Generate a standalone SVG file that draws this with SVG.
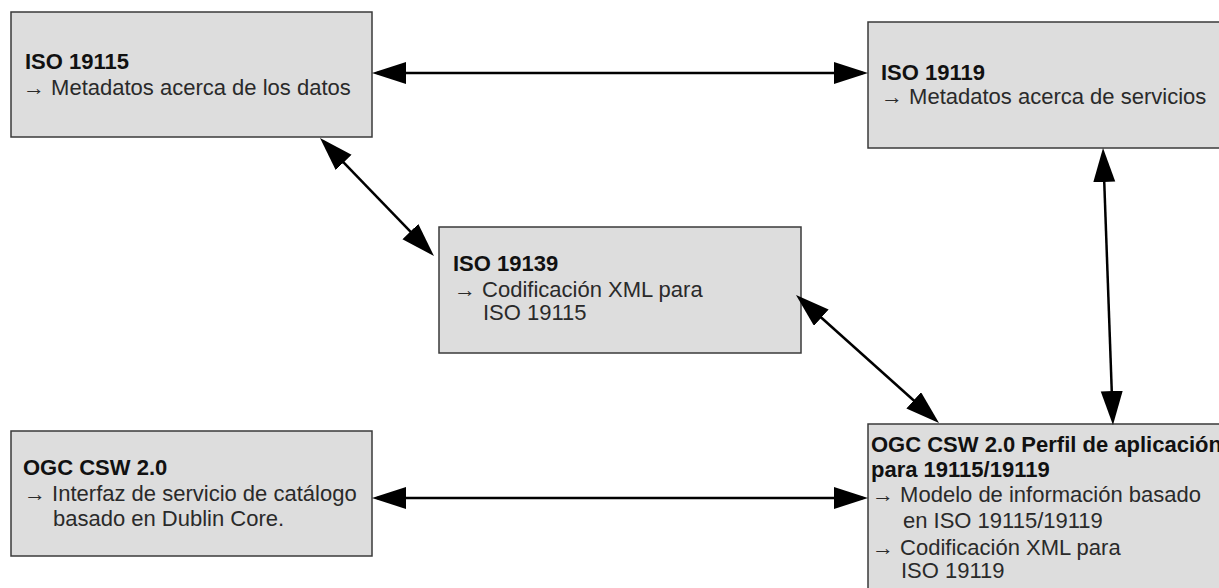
<svg xmlns="http://www.w3.org/2000/svg" width="1219" height="588" viewBox="0 0 1219 588">
<style>
.box{fill:#dddddd;stroke:#3a3a3a;stroke-width:1.5}
.t{font-family:"Liberation Sans",Arial,sans-serif;font-size:22px;fill:#2a2a2a}
.b{font-family:"Liberation Sans",Arial,sans-serif;font-size:22px;font-weight:bold;fill:#111}
.c{stroke:#000;stroke-width:2.5;fill:none;marker-start:url(#ah);marker-end:url(#ah)}
</style>
<defs>
<marker id="ah" markerUnits="userSpaceOnUse" markerWidth="36" markerHeight="24" viewBox="0 0 36 24" refX="29" refY="11" orient="auto-start-reverse">
<path d="M0,0 L34,11 L0,22 Z" fill="#000"/>
</marker>
</defs>
<rect width="1219" height="588" fill="#fff"/>
<g id="n1">
<rect class="box" x="11" y="12" width="361" height="125"/>
<text class="b" x="25" y="69">ISO 19115</text>
<text class="t" x="23" y="95">→ Metadatos acerca de los datos</text>
</g>
<g id="n2">
<rect class="box" x="868" y="22" width="400" height="126"/>
<text class="b" x="881" y="80">ISO 19119</text>
<text class="t" x="881" y="104">→ Metadatos acerca de servicios</text>
</g>
<g id="n3">
<rect class="box" x="439" y="227" width="362" height="126"/>
<text class="b" x="453" y="271">ISO 19139</text>
<text class="t" x="454" y="297">→ Codificación XML para</text>
<text class="t" x="483" y="320">ISO 19115</text>
</g>
<g id="n4">
<rect class="box" x="11" y="431" width="361" height="125"/>
<text class="b" x="23" y="475">OGC CSW 2.0</text>
<text class="t" x="24" y="501">→ Interfaz de servicio de catálogo</text>
<text class="t" x="53" y="526">basado en Dublin Core.</text>
</g>
<g id="n5">
<rect class="box" x="868" y="424" width="400" height="200"/>
<text class="b" x="871" y="452">OGC CSW 2.0 Perfil de aplicación</text>
<text class="b" x="871" y="477">para 19115/19119</text>
<text class="t" x="872" y="502">→ Modelo de información basado</text>
<text class="t" x="903" y="528">en ISO 19115/19119</text>
<text class="t" x="872" y="555">→ Codificación XML para</text>
<text class="t" x="901" y="578">ISO 19119</text>
</g>
<g id="connectors">
<line class="c" x1="377" y1="73" x2="863" y2="73"/>
<line class="c" x1="323.5" y1="141.6" x2="430.5" y2="252.4"/>
<line class="c" x1="799.7" y1="298.3" x2="935.3" y2="419.7"/>
<line class="c" x1="1103.2" y1="153" x2="1112.8" y2="420"/>
<line class="c" x1="377" y1="498" x2="863" y2="498"/>
</g>
</svg>
